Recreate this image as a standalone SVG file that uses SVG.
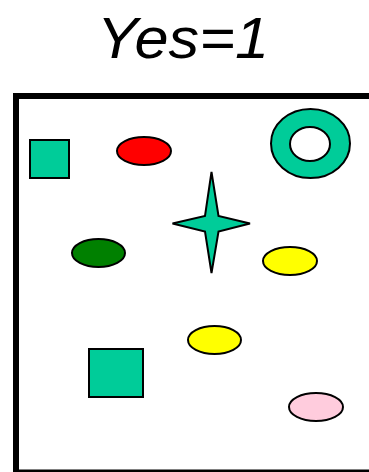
<svg xmlns="http://www.w3.org/2000/svg" width="369" height="472" viewBox="0 0 369 472">
<style>
.s{stroke:#000;stroke-width:2}
.teal{fill:#00CC99}
</style>
<rect width="369" height="472" fill="#fff"/>
<text x="183" y="58" font-family="Liberation Sans, Arial, sans-serif" font-style="italic" font-size="57" text-anchor="middle" textLength="172" lengthAdjust="spacingAndGlyphs" fill="#000">Yes=1</text>
<rect id="frame" x="16" y="96" width="360" height="376.5" fill="none" stroke="#000" stroke-width="6"/>
<g id="square-small"><rect class="s teal" x="30" y="140" width="39" height="38"/></g>
<g id="red-ellipse"><ellipse class="s" cx="144" cy="151" rx="27" ry="14" fill="#FF0000"/></g>
<g id="ring"><path class="s teal" fill-rule="evenodd" d="M271,143.5 a39.5,34.5 0 1,0 79,0 a39.5,34.5 0 1,0 -79,0 Z M290,144 a20,17 0 1,0 40,0 a20,17 0 1,0 -40,0 Z"/></g>
<g id="star"><polygon class="s teal" points="211.5,172 218.5,216 250,223.5 218.5,231.5 211.5,273 205,231.5 172.5,223.5 205,216"/></g>
<g id="green-ellipse"><ellipse class="s" cx="98.5" cy="253" rx="26.5" ry="14" fill="#008000"/></g>
<g id="yellow-ellipse-1"><ellipse class="s" cx="290" cy="261" rx="27" ry="14" fill="#FFFF00"/></g>
<g id="yellow-ellipse-2"><ellipse class="s" cx="214.5" cy="340" rx="26.5" ry="14" fill="#FFFF00"/></g>
<g id="square-large"><rect class="s teal" x="89" y="349" width="54" height="48"/></g>
<g id="pink-ellipse"><ellipse class="s" cx="316" cy="407" rx="27" ry="14" fill="#FFCCDD"/></g>
</svg>
